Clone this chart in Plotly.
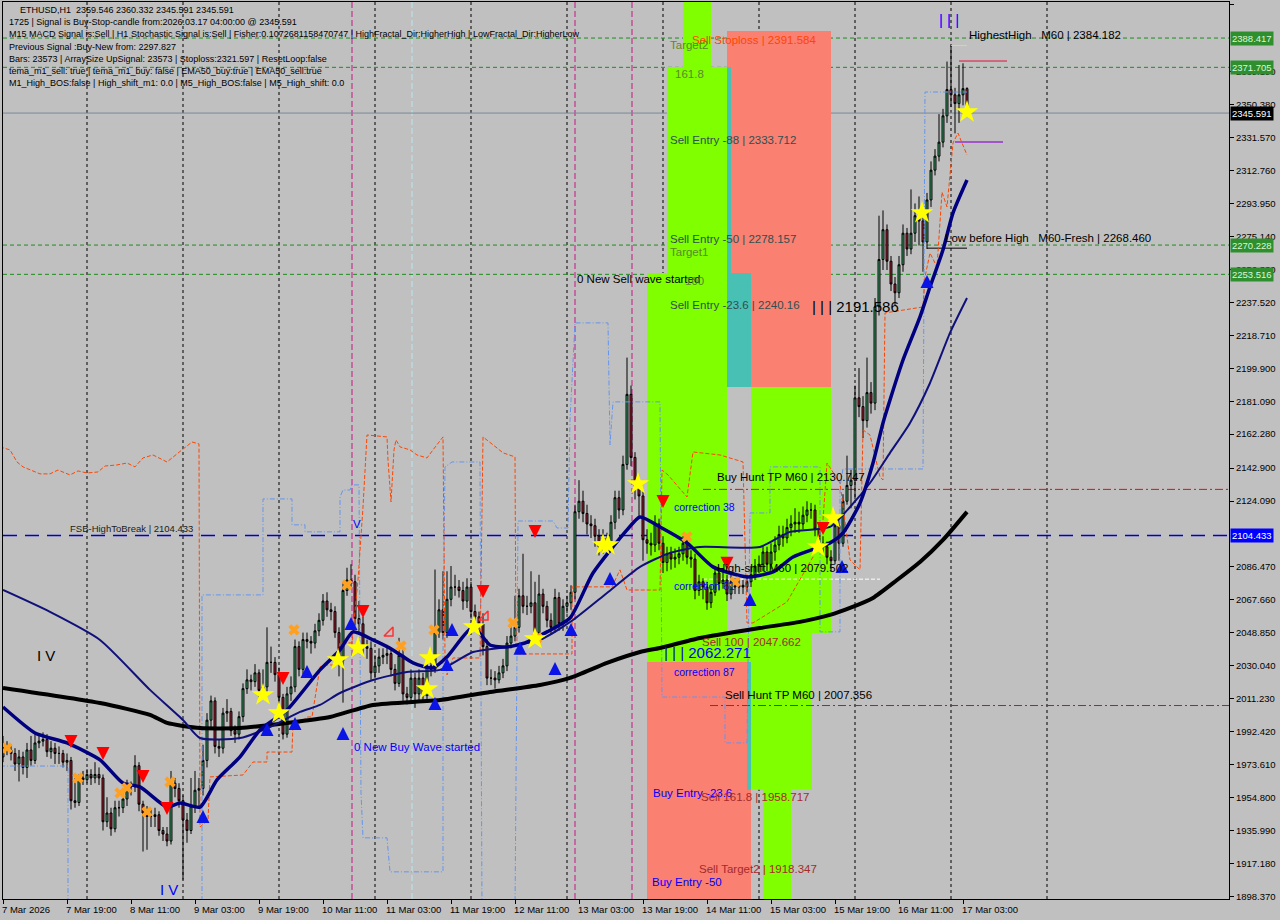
import pandas as pd
import plotly.graph_objects as go

# ---------------- DATA ----------------
BAR0 = pd.Timestamp("2026-03-07 03:00")   # first visible H1 bar
first_open = 1978.0

close = [
    1984,1982,1980,1974,1978,1972,1982,1976,1986,1987,1988,1981,1983,1980,1980,1975,1976,1953,1952,1966,1965,
    1968,1966,1968,1966,1941,1946,1937,1949,1949,1954,1961,1961,1973,1951,1946,1944,1944,1945,1936,1934,
    1930,1963,1960,1953,1942,1936,1950,1959,1960,1976,1999,2010,1984,1983,2003,2004,1993,1991,2001,2017,
    2022,2021,2026,2016,2018,2032,2032,2025,2012,1991,2014,2018,2041,2028,2045,2044,2043,2050,2056,2067,
    2062,2061,2049,2033,2073,2079,2078,2057,2054,2041,2040,2026,2030,2035,2036,2037,2028,2020,2036,2014,
    2012,2023,2014,2023,2013,2030,2028,2049,2062,2049,2068,2075,2075,2073,2067,2075,2061,2058,2054,2041,
    2023,2023,2022,2026,2030,2043,2047,2052,2070,2064,2064,2066,2049,2071,2064,2056,2052,2069,2054,2064,
    2066,2072,2118,2124,2117,2111,2110,2104,2098,2103,2100,2112,2126,2119,2145,2185,2149,2132,2127,2102,
    2100,2099,2111,2100,2089,2094,2091,2092,2094,2100,2092,2091,2073,2078,2075,2066,2072,2083,2077,2079,
    2071,2078,2075,2076,2075,2078,2082,2087,2088,2095,2088,2095,2099,2105,2103,2109,2111,2112,2111,2116,
    2119,2119,2108,2100,2098,2092,2090,2110,2100,2124,2133,2136,2183,2178,2170,2186,2180,2235,2262,2279,
    2261,2248,2243,2259,2277,2268,2277,2287,2284,2272,2296,2313,2321,2329,2344,2359,2356,2351,2356,2359.546,2345.591,
]
high = [
    1990,1987,1985,1983,1982,1981,1986,1990,1991,1991,1992,1991,1987,1986,1984,1982,1980,1978,1966,1968,1970,
    1971,1971,1975,1972,1968,1955,1949,1953,1953,1957,1965,1964,1979,1975,1953,1950,1948,1949,1947,1938,
    1938,1970,1966,1963,1956,1946,1966,1970,1966,1985,2003,2013,2012,1988,2006,2011,2006,1996,2004,2020,
    2028,2025,2031,2028,2028,2052,2041,2035,2029,2014,2018,2024,2045,2044,2049,2049,2047,2054,2060,2071,
    2072,2066,2064,2052,2077,2086,2088,2082,2067,2058,2045,2044,2036,2040,2040,2042,2040,2031,2046,2040,
    2018,2028,2026,2028,2026,2034,2036,2085,2068,2084,2084,2087,2082,2079,2078,2080,2078,2065,2061,2060,
    2045,2028,2027,2030,2034,2047,2052,2070,2074,2094,2070,2084,2078,2082,2074,2067,2060,2074,2072,2068,
    2070,2076,2122,2136,2130,2122,2116,2114,2108,2108,2106,2116,2130,2130,2150,2206,2190,2152,2136,2130,
    2108,2106,2116,2114,2104,2098,2098,2097,2098,2104,2104,2096,2094,2082,2080,2078,2076,2087,2086,2084,
    2082,2082,2080,2080,2079,2082,2087,2091,2093,2099,2098,2100,2104,2110,2110,2114,2116,2120,2118,2121,
    2124,2123,2122,2112,2104,2101,2096,2114,2113,2128,2150,2142,2190,2200,2184,2206,2192,2240,2287,2290,
    2282,2264,2252,2264,2282,2280,2302,2294,2298,2290,2300,2318,2325,2345,2348,2375,2384,2360,2373,2374,2360.332,
]
low = [
    1975,1979,1976,1970,1964,1968,1966,1973,1974,1983,1984,1978,1977,1974,1974,1972,1970,1948,1949,1950,1962,
    1963,1962,1963,1962,1936,1938,1933,1935,1944,1946,1950,1956,1958,1947,1924,1925,1938,1938,1933,1930,
    1927,1928,1955,1949,1908,1929,1934,1946,1950,1956,1972,1995,1980,1978,1980,1998,1990,1986,1988,1998,
    2014,2016,2018,2012,2012,2015,2026,2021,2006,1988,1989,2010,2015,2024,2025,2040,2037,2040,2047,2053,
    2058,2056,2046,2024,2009,2070,2074,2053,2049,2036,2034,2022,2023,2026,2031,2031,2024,2016,2018,2010,
    2008,2010,2006,2010,2009,2010,2024,2026,2046,2045,2046,2064,2070,2069,2062,2063,2057,2053,2050,2036,
    2019,2019,2017,2020,2023,2027,2040,2044,2049,2060,2059,2060,2044,2046,2060,2052,2048,2049,2050,2050,
    2060,2062,2068,2114,2112,2105,2103,2098,2093,2094,2095,2097,2108,2114,2116,2142,2144,2125,2115,2090,
    2094,2093,2095,2096,2083,2084,2085,2086,2088,2090,2088,2086,2068,2070,2068,2062,2063,2070,2073,2074,
    2067,2068,2071,2071,2071,2072,2075,2079,2083,2084,2084,2085,2090,2096,2098,2100,2104,2106,2106,2108,
    2112,2114,2104,2096,2094,2088,2084,2088,2090,2098,2122,2120,2125,2172,2160,2166,2174,2176,2230,2256,
    2256,2244,2236,2240,2255,2264,2265,2272,2270,2255,2268,2292,2310,2318,2326,2340,2349,2334,2340,2350,2345.591,
]

# moving averages (hours after first bar, price)
fast_h = [0,8,16,24.25,30,34.25,41,44.25,49.25,53.5,59.25,64.25,71,79.25,84.25,87.5,92.5,97.5,102.5,107.5,111,
          117.5,121.75,126,130.5,136,141.75,147.5,156,159.25,164.25,171,177.5,186,192.5,197.5,206.75,210,214.25,
          217.5,220,221.75,225,229.25,231.75,235,237.5,241]
fast_v = [2006.5,1991.7,1986.0,1976.3,1963.1,1960.9,1949.4,1951.7,1949.4,1964.9,1978.0,1993.4,2004.8,2027.7,2039.1,
          2049.4,2044.8,2039.1,2031.7,2028.8,2035.1,2052.2,2041.9,2040.8,2043.1,2049.4,2057.3,2083.0,2107.6,2115.0,
          2109.3,2100.2,2086.5,2080.8,2083.6,2092.2,2100.2,2105.9,2123.0,2145.8,2168.7,2181.8,2204.6,2229.2,2246.3,
          2267.5,2288.6,2307.4]
mid_h = [0,11.75,24.25,36.75,45,49.25,59.25,66.75,74.25,79.25,84.25,92.5,101,109.25,117.5,126,134.25,142.5,151,
         159.25,166.75,174.25,189.25,196.75,206.75,211.75,216.75,221.75,226.75,231.75,236.75,241]
mid_v = [2073.3,2060.8,2044.8,2016.3,1999.1,1988.8,1988.8,1995.1,2003.7,2007.7,2014.5,2021.9,2026.5,2027.7,2037.9,
         2040.8,2044.8,2056.2,2071.6,2086.5,2094.5,2097.9,2097.9,2106.5,2109.3,2120.7,2134.4,2151.6,2168.7,2191.5,
         2220.1,2240.0]
slow_h = [0,24.25,36.75,41,49.25,59.25,71,81.75,92.5,109.25,121.75,134.25,141.75,151,159.25,164.25,174.25,189.25,
          199.25,206.75,211.75,217.5,223.5,229.25,235,241]
slow_v = [2017.4,2008.8,2002.0,1997.4,1994.5,1994.5,1997.4,2000.8,2007.7,2010.5,2015.1,2019.1,2023.1,2031.7,2037.9,
          2040.2,2045.9,2051.6,2055.1,2059.1,2063.1,2068.8,2079.0,2089.3,2101.9,2117.9]

# trailing envelope (orange) and stepped channel (light blue)
orange_h = [-0.75,1.75,3.5,5,9.25,11.75,13.75,16.75,18.75,21,23.75,25.5,28.5,31,33,35,37.5,41,44.75,47.25,49,49.25,
            51.25,51.75,60,61,62.5,66,66,72.25,72.5,74.25,76,77.25,79.25,80.5,83,84.25,87.25,88.75,90,91,96,96.25,
            97,97.75,98.25,99.25,101.75,103.5,106,107.5,110,110.5,111,112.5,119.25,120,121.75,123.5,125,128,128.25,
            142.25,142.25,152.25,154.25,156,158.5,164.25,164.75,166.25,171,172.5,179.25,185,186,187.5,196,199.25,
            202.5,205,206,209.25,211.75,214.25,215,216.75,219.25,220,220.5,230,230.5,231.75,233.5,234.75,236,237.5,
            238.75,239.75,241]
orange_v = [2155.0,2153.3,2146.4,2143.6,2139.6,2139.6,2141.8,2139.0,2141.3,2140.1,2140.7,2144.1,2144.7,2145.8,2143.6,
            2148.7,2150.4,2146.4,2153.3,2157.8,2156.7,1938.0,1942.0,1966.6,1967.7,1970.6,1975.1,1975.1,1980.8,1980.8,
            1997.4,1997.4,2000.8,2000.8,2029.4,2030.5,2030.5,2043.1,2043.1,2079.0,2120.7,2161.8,2160.7,2147.5,2123.6,
            2153.3,2159.0,2155.0,2153.3,2150.4,2148.7,2153.3,2160.7,2035.1,2024.8,2034.5,2034.5,2160.7,2157.3,2154.4,
            2151.6,2149.3,2036.8,2036.8,2075.1,2075.1,2084.8,2073.3,2073.3,2073.3,2141.8,2139.0,2126.4,2152.1,2150.4,
            2146.4,2054.5,2054.5,2066.5,2079.0,2092.2,2113.3,2145.8,2134.4,2090.5,2084.8,2164.7,2161.8,2137.8,2136.1,
            2231.5,2234.9,2252.0,2265.7,2257.7,2300.5,2292.0,2328.5,2334.2,2328.5,2321.7]
blue_h = [-0.75,16.25,16.25,None,
          49.75,49.75,65,65,72.25,72.25,75.5,75.5,84.25,84.25,85,86.75,87.25,89,89.5,90,96,96.75,110,110,110.5,112.25,
          119.25,119.75,None,
          128,128.75,137.5,138.5,141.25,141.75,143,151.25,151.75,152.5,164.25,164.75,180.5,180.5,186,186.75,191.75,
          191.75,204.25,204.25,209.25,209.25,210,230,230.5,241]
blue_v = [1972.8,1972.8,1890.0,None,
          1890.0,2070.5,2070.5,2125.3,2125.3,2110.5,2110.5,2106.5,2106.5,2126.4,2130.4,2130.4,2133.3,2133.3,1957.4,
          1931.8,1931.8,1912.4,1912.4,2037.4,2143.6,2146.4,2146.4,1890.0,None,
          1890.0,2112.7,2112.7,2108.7,2108.7,2170.4,2225.8,2225.8,2156.1,2180.7,2180.7,2012.2,2012.2,1986.0,1986.0,
          2117.3,2117.3,2143.6,2143.6,2049.4,2049.4,2132.1,2142.4,2142.4,2357.6,2357.6]

# signal markers
sell_arrow_h = [17,25,35,41,70,90,120,133,165,181,205]
sell_arrow_p = [1983.1,1976.3,1963.1,1944.9,2019.1,2057.3,2068.8,2103.0,2120.1,2084.8,2104.7]
buy_arrow_h = [50,66,73,76,85,87,108,111,112.25,129.25,138,142,151.75,186.75,209.75,231]
buy_arrow_p = [1947.7,1997.4,2000.8,2030.5,1995.1,2057.9,2012.2,2034.5,2054.5,2043.7,2032.2,2054.5,2083.6,2071.6,
               2090.5,2253.2]
cross_h = [1,18.75,29.25,31,36,41.75,72.75,86,99.5,107.75,127.5,133.5,171,183]
cross_p = [1983.1,1966.0,1957.4,1960.3,1946.6,1963.7,2050.5,2076.2,2041.4,2050.5,2054.5,2045.9,2103.6,2077.9]
star_h = [65,69,83.75,88.75,106.75,106,117.75,133,150,151.25,158.75,203.75,207.5,229.75,241]
star_p = [2013.4,2003.1,2033.4,2040.2,2034.5,2016.8,2052.2,2045.4,2099.0,2099.0,2133.9,2097.9,2114.4,2288.6,2346.2]
hollow_h = [96.75,120.5]
hollow_p = [2048.8,2057.9]

# horizontal levels
green_levels = [2388.417, 2371.705, 2270.228, 2253.516]
bid_price = 2345.591
fsb_level = 2104.433
buy_hunt_tp = 2130.747
sell_hunt_tp = 2007.356
high_shift = 2079.502
highest_high = 2384.182
low_before_high = 2268.460

# zones: start h, end h, low, high, kind
zone_h0 = [181, 170, 166, 161, 181, 181, 187, 181, 187, 190, 161, 186]
zone_h1 = [207, 177, 181, 166, 182, 187, 207, 202.25, 202.25, 197, 187, 187]
zone_lo = [2189.2, 2371.9, 2032.2, 2032.2, 2254.3, 2189.2, 2048.8, 2032.2, 1959.2, 1880.0, 1880.0, 1959.2]
zone_hi = [2392.5, 2430.0, 2371.9, 2254.3, 2371.9, 2254.3, 2189.2, 2048.8, 2032.2, 1959.2, 2032.2, 2032.2]
zone_kind = ["salmon", "lime", "lime", "lime", "teal", "teal", "lime", "lime", "lime", "lime", "salmon", "teal"]

# separators
day_sep_h = [21, 45, 69, 93, 117, 141, 165, 189, 213, 237, 261]
magenta_h = [87.25, 143, 157.25]
cyan_h = [102.25]

# axis ticks
x_tick_h = [0,16,32,48,64,80,96,112,128,144,160,176,192,208,224,240]
x_tick_text = ["7 Mar 2026","7 Mar 19:00","8 Mar 11:00","9 Mar 03:00","9 Mar 19:00","10 Mar 11:00",
               "11 Mar 03:00","11 Mar 19:00","12 Mar 11:00","13 Mar 03:00","13 Mar 19:00","14 Mar 11:00",
               "15 Mar 03:00","15 Mar 19:00","16 Mar 11:00","17 Mar 03:00"]
y_tick_vals = [2407.380,2369.190,2350.380,2331.570,2312.760,2293.950,2275.140,2256.330,2237.520,2218.710,2199.900,
               2181.090,2162.280,2142.900,2124.090,2086.470,2067.660,2048.850,2030.040,2011.230,1992.420,1973.610,
               1954.800,1935.990,1917.180,1898.370]
box_vals = [2388.417, 2371.705, 2345.591, 2270.228, 2253.516, 2104.433]
box_kind = ["green", "green", "black", "green", "green", "blue"]

header_lines = [
    "ETHUSD,H1  2359.546 2360.332 2345.591 2345.591",
    "1725 | Signal is Buy-Stop-candle from:2026.03.17 04:00:00 @ 2345.591",
    "M15 MACD Signal is:Sell | H1 Stochastic Signal is:Sell | Fisher:0.1072681158470747 | HighFractal_Dir:HigherHigh | LowFractal_Dir:HigherLow",
    "Previous Signal :Buy-New from: 2297.827",
    "Bars: 23573 | ArraySize UpSignal: 23573 | Stoploss:2321.597 | ResetLoop:false",
    "tema_m1_sell: true | tema_m1_buy: false | EMA50_buy:true | EMA50_sell:true",
    "M1_High_BOS:false | High_shift_m1: 0.0 | M5_High_BOS:false | M5_High_shift: 0.0",
]

# chart text objects: hour, price, text, style
label_h = [16.25, 87.25, 143, 170, 167.25, 167.25, 167.25, 164.75, 174.25, 180, 178, 178, 162, 174, 173.5, 161.75,
           166.25, 171.75, 167.5, 166.25, 166.25, 166.25, 166.25, 201.75, 241, 235, 8, 38.75, 87, 233.5]
label_p = [2108.6, 1983.7, 2250.9, 2249.8, 2120.7, 2075.6, 2026.5, 2037.4, 2043.6, 2013.4, 2137.8, 2085.9, 1957.4,
           1955.2, 1914.0, 1906.6, 2384.5, 2387.3, 2367.9, 2330.2, 2273.7, 2266.3, 2236.0, 2234.9, 2390.2, 2274.3,
           2036.2, 1902.6, 2111.0, 2398.8]
label_text = ["FSB-HighToBreak | 2104.433", "0 New Buy Wave started", "0 New Sell wave started", "100",
              "correction 38", "correction 61", "correction 87", "| | | 2062.271", "Sell 100 | 2047.662",
              "Sell Hunt TP M60 | 2007.356", "Buy Hunt TP M60 | 2130.747", "High-shift M60 | 2079.502",
              "Buy Entry -23.6", "Sell 161.8 | 1958.717", "Sell Target2 | 1918.347", "Buy Entry -50",
              "Target2", "Sell Stoploss | 2391.584", "161.8", "Sell Entry -88 | 2333.712",
              "Sell Entry -50 | 2278.157", "Target1", "Sell Entry -23.6 | 2240.16", "| | | 2191.586",
              "HighestHigh   M60 | 2384.182", "Low before High   M60-Fresh | 2268.460", "I V", "I V", "V", "| | |"]
label_style = ["small", "blue", "black", "olive", "blueS", "blueS", "blueS", "bigblue", "brown", "black", "black",
               "black", "blue", "brown", "brown", "blue", "olive", "orangered", "olive", "slate", "slate", "olive",
               "slate", "bigblack", "black", "black", "bigblack", "bigblue", "blue", "bigblue"]

# ---------------- FIGURE ----------------
FONT = "Liberation Sans"


def T(h):
    return None if h is None else (BAR0 + pd.Timedelta(hours=h)).strftime("%Y-%m-%d %H:%M:%S")


def TL(hs):
    return [T(h) for h in hs]


times = [T(i) for i in range(len(close))]
opens = [first_open] + close[:-1]

fig = go.Figure()

# zones (background rectangles)
zone_colors = {"lime": "#7FFF00", "salmon": "#FA8072", "teal": "#48C0B4"}
shapes = []
for h0, h1, lo, hi, k in zip(zone_h0, zone_h1, zone_lo, zone_hi, zone_kind):
    shapes.append(dict(type="rect", xref="x", yref="y", x0=T(h0), x1=T(h1), y0=lo, y1=hi,
                       fillcolor=zone_colors[k], line=dict(width=0), layer="below"))

# vertical separators
for h in day_sep_h:
    shapes.append(dict(type="line", xref="x", yref="paper", x0=T(h), x1=T(h), y0=0, y1=1,
                       line=dict(color="black", width=1, dash="3px,3px"), layer="below"))
for h in magenta_h:
    shapes.append(dict(type="line", xref="x", yref="paper", x0=T(h), x1=T(h), y0=0, y1=1,
                       line=dict(color="#C71585", width=1, dash="6px,3px"), layer="below"))
for h in cyan_h:
    shapes.append(dict(type="line", xref="x", yref="paper", x0=T(h), x1=T(h), y0=0, y1=1,
                       line=dict(color="#B8E8F0", width=1, dash="6px,3px"), layer="below"))

# horizontal levels
for lv in green_levels:
    shapes.append(dict(type="line", xref="paper", yref="y", x0=0, x1=1, y0=lv, y1=lv,
                       line=dict(color="#1E8C1E", width=1, dash="4px,3px"), layer="below"))
shapes.append(dict(type="line", xref="paper", yref="y", x0=0, x1=1, y0=bid_price, y1=bid_price,
                   line=dict(color="#778899", width=1), layer="below"))
shapes.append(dict(type="line", xref="paper", yref="y", x0=0, x1=1, y0=fsb_level, y1=fsb_level,
                   line=dict(color="#0000CD", width=1.5, dash="14px,8px"), layer="below"))
shapes.append(dict(type="line", xref="x", yref="y", x0=T(175), x1=T(320), y0=buy_hunt_tp, y1=buy_hunt_tp,
                   line=dict(color="#FF0000", width=1, dash="8px,3px,2px,3px"), layer="below"))
shapes.append(dict(type="line", xref="x", yref="y", x0=T(176.75), x1=T(320), y0=sell_hunt_tp, y1=sell_hunt_tp,
                   line=dict(color="#FF0000", width=1, dash="8px,3px,2px,3px"), layer="below"))
shapes.append(dict(type="line", xref="x", yref="y", x0=T(175), x1=T(219.25), y0=high_shift, y1=high_shift,
                   line=dict(color="#FFFFFF", width=1, dash="4px,2px"), layer="below"))
shapes.append(dict(type="line", xref="x", yref="y", x0=T(237), x1=T(241), y0=highest_high, y1=highest_high,
                   line=dict(color="#ADFF2F", width=1), layer="below"))
shapes.append(dict(type="line", xref="x", yref="y", x0=T(239), x1=T(251), y0=2375.3, y1=2375.3,
                   line=dict(color="#DC143C", width=1), layer="below"))
shapes.append(dict(type="line", xref="x", yref="y", x0=T(238), x1=T(250), y0=2329.1, y1=2329.1,
                   line=dict(color="#9932CC", width=1.5), layer="below"))
shapes.append(dict(type="line", xref="x", yref="y", x0=T(231), x1=T(241), y0=low_before_high, y1=low_before_high,
                   line=dict(color="black", width=1), layer="below"))

# stepped lines
fig.add_trace(go.Scatter(x=TL(blue_h), y=blue_v, mode="lines", hoverinfo="skip", connectgaps=False,
                         line=dict(color="#6495ED", width=1, dash="5px,2px,1px,2px")))
fig.add_trace(go.Scatter(x=TL(orange_h), y=orange_v, mode="lines", hoverinfo="skip",
                         line=dict(color="#FF4500", width=1, dash="4px,2px")))

# candles
fig.add_trace(go.Candlestick(
    x=times, open=opens, high=high, low=low, close=close, whiskerwidth=0, hoverinfo="skip",
    increasing=dict(line=dict(color="black", width=1), fillcolor="#3CB371"),
    decreasing=dict(line=dict(color="black", width=1), fillcolor="#B22234")))

# moving averages
fig.add_trace(go.Scatter(x=TL(slow_h), y=slow_v, mode="lines", hoverinfo="skip",
                         line=dict(color="black", width=4, shape="spline", smoothing=0.6)))
fig.add_trace(go.Scatter(x=TL(mid_h), y=mid_v, mode="lines", hoverinfo="skip",
                         line=dict(color="#10107A", width=2, shape="spline", smoothing=0.6)))
fig.add_trace(go.Scatter(x=TL(fast_h), y=fast_v, mode="lines", hoverinfo="skip",
                         line=dict(color="#000080", width=3.5, shape="spline", smoothing=0.6)))

# signal markers
fig.add_trace(go.Scatter(x=TL(cross_h), y=cross_p, mode="markers", hoverinfo="skip",
                         marker=dict(symbol="x", size=10, color="#FFA020", line=dict(width=0))))
fig.add_trace(go.Scatter(x=TL(star_h), y=star_p, mode="markers", hoverinfo="skip",
                         marker=dict(symbol="star", size=17, color="#FFFF00", line=dict(width=0))))
fig.add_trace(go.Scatter(x=TL(sell_arrow_h), y=sell_arrow_p, mode="markers", hoverinfo="skip",
                         marker=dict(symbol="arrow-down", size=13, color="#FF0000", line=dict(width=0))))
fig.add_trace(go.Scatter(x=TL(buy_arrow_h), y=buy_arrow_p, mode="markers", hoverinfo="skip",
                         marker=dict(symbol="arrow-up", size=13, color="#0A14E6", line=dict(width=0))))
fig.add_trace(go.Scatter(x=TL(hollow_h), y=hollow_p, mode="markers", hoverinfo="skip",
                         marker=dict(symbol="triangle-se-open", size=10, color="#FF3030", line=dict(width=1.5))))

annotations = []
# header block
for k, line in enumerate(header_lines):
    annotations.append(dict(xref="paper", yref="paper", x=0, y=1, xanchor="left", yanchor="middle",
                            xshift=(15 if k == 0 else 4), yshift=-(8 + 12.2 * k), text=line, showarrow=False,
                            font=dict(family=FONT, size=9, color="black")))

styles = {
    "small": dict(size=9.5, color="#202020"),
    "blue": dict(size=11.5, color="#0000FF"),
    "blueS": dict(size=10.5, color="#0000FF"),
    "black": dict(size=11.5, color="black"),
    "olive": dict(size=11.5, color="#5A8A2A"),
    "brown": dict(size=11.5, color="#A52A2A"),
    "orangered": dict(size=11.5, color="#FF4500"),
    "slate": dict(size=11.5, color="#2F4F4F"),
    "bigblue": dict(size=15, color="#0000FF"),
    "bigblack": dict(size=15, color="black"),
}
for h, p, t, s in zip(label_h, label_p, label_text, label_style):
    annotations.append(dict(xref="x", yref="y", x=T(h), y=p, xanchor="left", yanchor="middle", text=t,
                            showarrow=False, font=dict(family=FONT, **styles[s])))

# x tick labels (left aligned like the terminal)
for h, t in zip(x_tick_h, x_tick_text):
    annotations.append(dict(xref="x", yref="paper", x=T(h), y=0, xanchor="left", yanchor="top", yshift=-3,
                            xshift=-3, text=t, showarrow=False, font=dict(family=FONT, size=9.5, color="black")))

# price boxes on the axis
box_bg = {"green": "#2F8F2F", "black": "#000000", "blue": "#0000FF"}
box_fg = {"green": "#D8F8D8", "black": "#FFFFFF", "blue": "#FFFFFF"}
for v, k in zip(box_vals, box_kind):
    annotations.append(dict(xref="paper", yref="y", x=1, y=v, xanchor="left", yanchor="middle", xshift=1,
                            text=f"{v:.3f}", showarrow=False, bgcolor=box_bg[k], borderpad=1,
                            font=dict(family=FONT, size=9.5, color=box_fg[k])))

fig.update_layout(
    width=1280, height=920,
    margin=dict(l=3, r=51, t=2, b=21, autoexpand=False),
    paper_bgcolor="#C0C0C0", plot_bgcolor="#C0C0C0",
    showlegend=False,
    font=dict(family=FONT, size=10, color="black"),
    shapes=shapes, annotations=annotations,
    xaxis=dict(type="date", range=[T(0), T(306.5)], showgrid=False, zeroline=False, showline=True,
               linecolor="black", linewidth=1, mirror=True, ticks="outside", ticklen=4, tickcolor="black",
               tickvals=TL(x_tick_h), showticklabels=False, rangeslider=dict(visible=False), fixedrange=True),
    yaxis=dict(side="right", range=[1896.9, 2409.0], showgrid=False, zeroline=False, showline=True,
               linecolor="black", linewidth=1, mirror=True, ticks="outside", ticklen=4, tickcolor="black",
               tickvals=y_tick_vals, ticktext=[f"{v:.3f}" for v in y_tick_vals],
               tickfont=dict(family=FONT, size=9.5, color="black"), fixedrange=True),
)

fig.write_html("out.html", config=dict(displayModeBar=False),
               post_script="document.body.style.margin='0';document.body.style.background='#C0C0C0';")
